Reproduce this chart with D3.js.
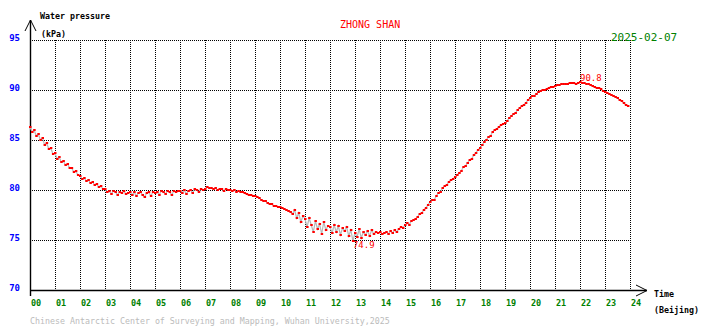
<!DOCTYPE html>
<html lang="en">
<head>
    <title>ZHONG SHAN Water pressure</title>
    <meta charset="UTF-8">
    <script src='https://d3js.org/d3.v7.min.js'></script>
    <style>
      body { margin: 0; background: #fff; }
      text { font-family: "DejaVu Sans Mono", "Liberation Mono", monospace; }
    </style>
</head>
<body>
    <div id="viz">
      <svg style="width:710px;height:328px;" width="710" height="328"></svg>
    </div>

    <script>
      // water pressure (kPa), one row per hour, one value every 5 minutes
      let hour00 = [86.3, 85.8, 86.0, 85.4, 85.6, 85.0, 85.2, 84.5, 84.7, 84.1, 84.2, 83.6]
      let hour01 = [83.7, 83.1, 83.3, 82.8, 82.9, 82.5, 82.6, 82.2, 82.2, 81.8, 81.9, 81.5]
      let hour02 = [81.4, 81.1, 81.2, 80.9, 81.0, 80.7, 80.8, 80.5, 80.6, 80.3, 80.4, 80.1]
      let hour03 = [80.1, 79.8, 79.9, 79.6, 79.9, 79.8, 79.5, 79.8, 79.7, 79.9, 79.6, 79.7]
      let hour04 = [79.8, 79.5, 79.8, 79.4, 79.7, 79.8, 79.5, 79.3, 79.7, 79.8, 79.4, 79.8]
      let hour05 = [79.7, 79.8, 79.5, 79.9, 79.8, 79.6, 79.9, 79.8, 79.5, 79.9, 79.8, 79.9]
      let hour06 = [79.9, 79.7, 80.0, 79.6, 79.9, 80.0, 79.7, 80.1, 80.0, 79.8, 80.1, 80.0]
      let hour07 = [80.1, 80.3, 80.2, 80.2, 80.1, 80.2, 80.0, 80.1, 80.1, 79.9, 80.1, 80.0]
      let hour08 = [80.0, 79.9, 80.0, 79.8, 79.9, 79.8, 79.8, 79.7, 79.6, 79.5, 79.5, 79.4]
      let hour09 = [79.4, 79.3, 79.2, 79.0, 78.9, 78.9, 78.7, 78.6, 78.6, 78.4, 78.4, 78.3]
      let hour10 = [78.3, 78.2, 78.1, 78.0, 77.9, 77.8, 77.6, 78.0, 77.2, 77.7, 76.8, 77.4]
      let hour11 = [77.1, 76.3, 77.2, 76.5, 75.8, 76.9, 76.1, 76.6, 75.6, 76.8, 76.0, 76.4]
      let hour12 = [76.3, 75.7, 76.5, 75.8, 76.4, 75.5, 76.2, 75.9, 76.3, 75.4, 76.0, 74.9]
      let hour13 = [75.7, 75.3, 76.1, 75.2, 75.8, 75.5, 75.9, 75.4, 76.0, 75.6, 75.8, 75.7]
      let hour14 = [75.8, 75.6, 75.7, 75.8, 75.6, 75.9, 75.7, 76.0, 75.8, 76.1, 76.3, 76.2]
      let hour15 = [76.5, 76.7, 76.5, 76.9, 77.0, 77.1, 77.3, 77.6, 77.7, 78.0, 78.2, 78.5]
      let hour16 = [78.8, 79.0, 79.0, 79.4, 79.7, 79.8, 80.2, 80.4, 80.5, 80.8, 81.0, 81.1]
      let hour17 = [81.3, 81.5, 81.7, 81.9, 82.3, 82.4, 82.7, 83.0, 83.1, 83.5, 83.7, 84.0]
      let hour18 = [84.2, 84.5, 84.8, 85.0, 85.3, 85.4, 85.8, 86.0, 86.1, 86.3, 86.5, 86.6]
      let hour19 = [86.7, 86.9, 87.2, 87.4, 87.6, 87.7, 88.0, 88.2, 88.4, 88.5, 88.7, 89.0]
      let hour20 = [89.2, 89.4, 89.4, 89.6, 89.8, 89.9, 90.0, 90.0, 90.1, 90.2, 90.3, 90.3]
      let hour21 = [90.4, 90.5, 90.5, 90.6, 90.6, 90.6, 90.6, 90.7, 90.7, 90.7, 90.6, 90.7]
      let hour22 = [90.8, 90.7, 90.7, 90.6, 90.6, 90.5, 90.4, 90.3, 90.2, 90.2, 90.1, 89.9]
      let hour23 = [89.8, 89.7, 89.6, 89.5, 89.4, 89.3, 89.2, 89.0, 88.9, 88.7, 88.5, 88.4]

      let hourLabels = ["00","01","02","03","04","05","06","07","08","09","10","11",
                        "12","13","14","15","16","17","18","19","20","21","22","23","24"]
      let pressureTicks = [70, 75, 80, 85, 90, 95]

      let stationName = "ZHONG SHAN"
      let dateLabel = "2025-02-07"
      let footer = "Chinese Antarctic Center of Surveying and Mapping, Wuhan University,2025"

      let hours = [hour00, hour01, hour02, hour03, hour04, hour05, hour06, hour07,
                   hour08, hour09, hour10, hour11, hour12, hour13, hour14, hour15,
                   hour16, hour17, hour18, hour19, hour20, hour21, hour22, hour23]
      // flatten to {h, v}, 5 minute steps
      let series = []
      hours.forEach((row, hi) => row.forEach((v, j) => series.push({h: hi + j / 12, v: v})))

      let svg = d3.select("svg")
      let xScale = d3.scaleLinear().domain([0, 24]).range([30, 630])
      let yScale = d3.scaleLinear().domain([70, 95]).range([290, 40])

      // dotted grid
      let grid = svg.append("g").attr("stroke", "#000").attr("stroke-dasharray", "1,1")
      grid.selectAll("line.v").data(d3.range(1, 25)).enter()
        .append("line")
          .attr("x1", d => xScale(d) + 0.5).attr("x2", d => xScale(d) + 0.5)
          .attr("y1", yScale(95)).attr("y2", yScale(70))
      grid.selectAll("line.h").data(pressureTicks.slice(1)).enter()
        .append("line")
          .attr("x1", xScale(0)).attr("x2", xScale(24))
          .attr("y1", d => yScale(d) + 0.5).attr("y2", d => yScale(d) + 0.5)

      // axes with arrows
      let ax = svg.append("g").attr("stroke", "#000").attr("fill", "none").attr("stroke-width", 1.4)
      ax.append("line").attr("x1", 30.5).attr("x2", 30.5).attr("y1", 20).attr("y2", 296)
      ax.append("path").attr("d", "M25,31 L30.5,20 L36,31").attr("stroke-width", 1)
      ax.append("line").attr("x1", 30).attr("x2", 647).attr("y1", 290.5).attr("y2", 290.5)
      ax.append("path").attr("d", "M636,285 L647,290.5 L636,296").attr("stroke-width", 1)

      // tick labels
      svg.selectAll("text.ylab").data(pressureTicks).enter()
        .append("text").attr("class", "ylab")
          .attr("x", 20).attr("y", d => yScale(d) + 1)
          .attr("text-anchor", "end").attr("fill", "#0000ff")
          .attr("font-size", "9px").attr("font-weight", "bold")
          .text(d => d)
      svg.selectAll("text.xlab").data(hourLabels).enter()
        .append("text").attr("class", "xlab")
          .attr("x", (d, i) => xScale(i) + 1).attr("y", 306)
          .attr("fill", "#008000").attr("font-size", "8.5px").attr("font-weight", "bold")
          .text(d => d)

      // axis titles
      let small = "8.3px"
      svg.append("text").attr("x", 40).attr("y", 19).attr("font-size", small).attr("font-weight", "bold").text("Water pressure")
      svg.append("text").attr("x", 41).attr("y", 37).attr("font-size", small).attr("font-weight", "bold").text("(kPa)")
      svg.append("text").attr("x", 654).attr("y", 297).attr("font-size", small).attr("font-weight", "bold").text("Time")
      svg.append("text").attr("x", 654).attr("y", 313).attr("font-size", small).attr("font-weight", "bold").text("(Beijing)")

      svg.append("text").attr("x", 340).attr("y", 28).attr("font-size", "10px").attr("fill", "#ff0000").text(stationName)
      svg.append("text").attr("x", 611).attr("y", 41).attr("font-size", "11px").attr("fill", "#008000").text(dateLabel)
      svg.append("text").attr("x", 30).attr("y", 324).attr("font-size", small).attr("fill", "#bbbbbb").text(footer)

      // data: grey line through the samples, red dots on top
      let line = d3.line().x(d => xScale(d.h)).y(d => yScale(d.v))
      svg.append("path").datum(series)
        .attr("d", line).attr("fill", "none").attr("stroke", "#b8b8b8").attr("stroke-width", 1.2)
      svg.selectAll("rect.pt").data(series).enter()
        .append("rect").attr("class", "pt")
          .attr("x", d => xScale(d.h) - 1).attr("y", d => yScale(d.v) - 1)
          .attr("width", 2.5).attr("height", 2).attr("fill", "#ff0000")

      // min / max labels
      let maxPt = series.reduce((a, b) => b.v > a.v ? b : a)
      let minPt = series.reduce((a, b) => b.v < a.v ? b : a)
      svg.append("text").attr("x", xScale(maxPt.h)).attr("y", yScale(maxPt.v) - 1)
        .attr("font-size", "9px").attr("fill", "#ff0000").text(maxPt.v.toFixed(1))
      svg.append("text").attr("x", xScale(minPt.h)).attr("y", yScale(minPt.v) + 7)
        .attr("font-size", "9px").attr("fill", "#ff0000").text(minPt.v.toFixed(1))
    </script>
</body>
</html>
